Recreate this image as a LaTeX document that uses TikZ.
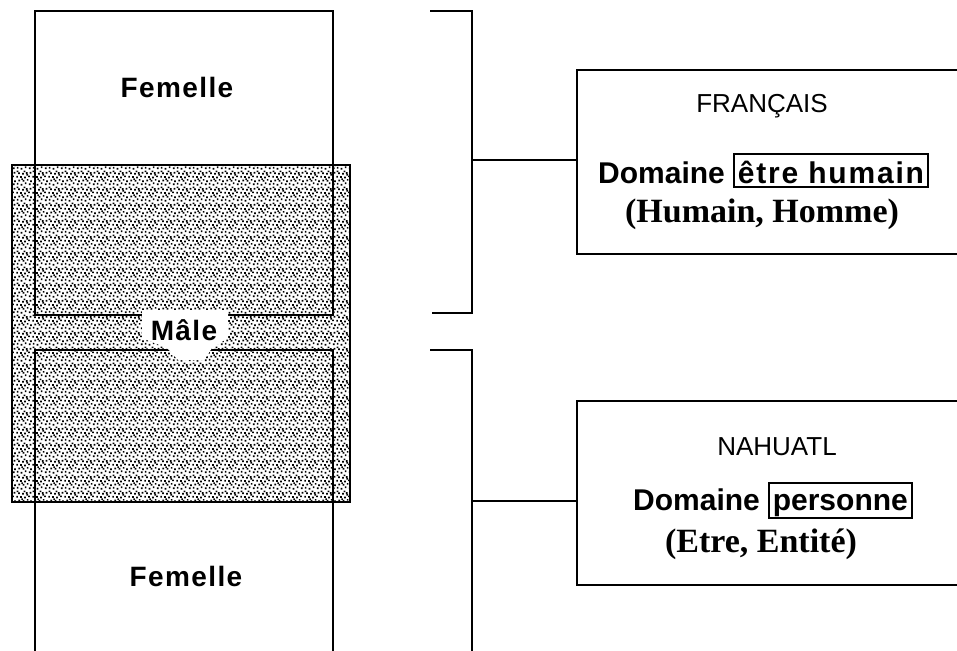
\documentclass[tikz,border=0pt]{standalone}
\usepackage{fontspec}
\setmainfont{Liberation Sans}
\newfontfamily\serifb{Liberation Serif}
\usetikzlibrary{patterns.meta}

\tikzdeclarepattern{
  name=stipple,
  type=uncolored,
  bounding box={(0pt,0pt) and (16pt,16pt)},
  tile size={(16pt,16pt)},
  code={
    \foreach \a/\b in {0.8/1.5, 4.9/0.4, 9.3/2.1, 13.6/0.9, 2.6/5.0, 7.1/4.6,
      11.4/5.6, 15.0/4.2, 0.3/9.0, 4.4/8.7, 8.6/8.1, 12.9/9.3, 2.3/12.6,
      6.5/12.0, 10.4/12.9, 14.4/13.2, 8.2/14.6, 0.6/14.6, 5.6/6.4, 11.0/10.9}{
      \fill (\a pt,\b pt) rectangle ++(1.8pt,1.8pt);
    }
  }
}

\tikzset{
  ln/.style={line width=1.9pt, line join=miter},
  femtext/.style={font=\fontsize{28}{32}\selectfont\bfseries\addfontfeature{LetterSpace=5}, inner sep=0pt, anchor=base},
  langtext/.style={font=\fontsize{26}{30}\selectfont, inner sep=0pt, anchor=base},
  domtext/.style={font=\fontsize{30}{34}\selectfont\bfseries, inner sep=0pt, anchor=base west},
  boxtext/.style={domtext, draw, line width=1.6pt, inner xsep=4pt, inner ysep=1pt},
  syntext/.style={font=\fontsize{34}{40}\selectfont\serifb\bfseries, inner sep=0pt, anchor=base},
}

\begin{document}
\begin{tikzpicture}[x=1pt, y=-1pt]
\useasboundingbox (0,0) rectangle (957,650);

% shaded "Male" region
\path[ln, pattern={stipple}, pattern color=black, draw=black] (12,165) rectangle (350,502);

% top Femelle rectangle
\draw[ln] (35,11) rectangle (333,315);
% bottom Femelle rectangle (open at bottom)
\draw[ln] (35,652) -- (35,350) -- (333,350) -- (333,652);

% white clearing around the label
\fill[white] (142,310) -- (228,310) -- (228,338) -- (212,348) -- (204,360) -- (178,360) -- (167,348) -- (142,338) -- cycle;
\node[femtext] (male) at (184,340) {Mâle};

\node[femtext] (fem1) at (177,98) {Femelle};
\node[femtext] (fem2) at (186,586) {Femelle};

% brackets
\coordinate (t1) at (430,11);
\coordinate (t2) at (472,11);
\coordinate (t3) at (472,313);
\coordinate (t4) at (432,313);
\coordinate (tm) at (472,160);
\draw[ln] (t1) -- (t2) -- (t3) -- (t4);

\coordinate (u1) at (430,350);
\coordinate (u2) at (472,350);
\coordinate (u3) at (472,652);
\coordinate (um) at (472,501);
\draw[ln] (u1) -- (u2) -- (u3);

% language boxes (open on the right)
\coordinate (fb) at (577,160);
\coordinate (nb) at (577,501);
\draw[ln] (960,70) -- (577,70) -- (577,254) -- (960,254);
\draw[ln] (960,401) -- (577,401) -- (577,585) -- (960,585);

\draw[ln] (tm) -- (fb);
\draw[ln] (um) -- (nb);

% French box texts
\node[langtext] (fr) at (762,113) {FRANÇAIS};
\node[domtext] (dom1) at (598,183) {Domaine};
\node[boxtext, text height=28pt, text depth=3pt, font=\fontsize{30}{34}\selectfont\bfseries\addfontfeature{LetterSpace=6}] (eh) at (733,183) {être humain};
\node[syntext] (syn1) at (762,222) {(Humain, Homme)};

% Nahuatl box texts
\node[langtext] (na) at (777,455) {NAHUATL};
\node[domtext] (dom2) at (633,510) {Domaine};
\node[boxtext, text height=26pt, text depth=7pt] (pe) at (768,510) {personne};
\node[syntext] (syn2) at (761,552) {(Etre, Entité)};
\end{tikzpicture}
\end{document}
